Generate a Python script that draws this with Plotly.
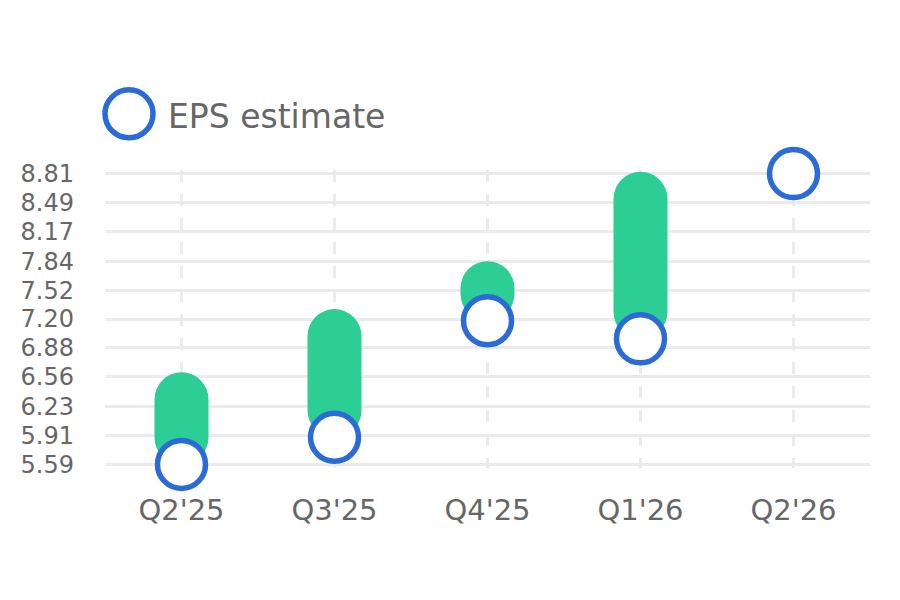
import plotly.graph_objects as go

categories = ["Q2'25", "Q3'25", "Q4'25", "Q1'26", "Q2'26"]
eps_estimate = [5.59, 5.89, 7.18, 6.98, 8.81]
range_low = [5.59, 5.89, 7.18, 6.98, None]
range_high = [6.61, 7.31, 7.84, 8.83, None]
y_ticks = [5.59, 5.91, 6.23, 6.56, 6.88, 7.20, 7.52, 7.84, 8.17, 8.49, 8.81]
y_tick_text = ["5.59", "5.91", "6.23", "6.56", "6.88", "7.20", "7.52", "7.84", "8.17", "8.49", "8.81"]
legend_label = "EPS estimate"

GREEN = "#2DCE96"
BLUE = "#2A6BD8"
GRID = "#EBEBEB"
TEXT = "#666666"

bar_len = [None if (h is None or l is None) else h - l for h, l in zip(range_high, range_low)]

fig = go.Figure()
fig.add_trace(go.Bar(
    x=categories, y=bar_len, base=range_low, width=0.353,
    marker=dict(color=GREEN, cornerradius=27, line=dict(width=0)),
    cliponaxis=False, showlegend=False, hoverinfo="skip",
))
fig.add_trace(go.Scatter(
    x=categories, y=eps_estimate, mode="markers", name=legend_label,
    marker=dict(size=48, color="white", line=dict(color=BLUE, width=5.5)),
    cliponaxis=False, showlegend=False,
))

# y range padded slightly so edge gridlines are drawn
ymin, ymax = 5.55, 8.85
ppu = 90.28
L, R = 105, 30
T = 173.3 - (ymax - 8.81) * ppu
B = 600 - (464 + (5.59 - ymin) * ppu)
pw = 900 - L - R
ph = 600 - T - B

# legend drawn manually (large symbol)
fig.add_shape(type="circle", xref="paper", yref="paper",
              xsizemode="pixel", ysizemode="pixel",
              xanchor=(129 - L) / pw, yanchor=(600 - B - 113.5) / ph,
              x0=-24, x1=24, y0=-24, y1=24,
              line=dict(color=BLUE, width=5.5), fillcolor="white")
fig.add_annotation(xref="paper", yref="paper", x=(166 - L) / pw, y=(600 - B - 116) / ph,
                   xanchor="left", yanchor="middle", showarrow=False,
                   text=legend_label, font=dict(family="DejaVu Sans", size=33, color=TEXT))

fig.update_layout(
    width=900, height=600,
    margin=dict(l=L, r=R, t=T, b=B),
    paper_bgcolor="white", plot_bgcolor="white",
)
fig.update_xaxes(
    type="category", range=[-0.5, 4.5],
    showgrid=True, gridcolor=GRID, gridwidth=3, griddash="12px,12px",
    showline=False, zeroline=False, ticks="",
    tickfont=dict(family="DejaVu Sans", size=29, color=TEXT),
    ticklabelstandoff=22,
)
fig.update_yaxes(
    range=[ymin, ymax], tickmode="array", tickvals=y_ticks, ticktext=y_tick_text,
    showgrid=True, gridcolor=GRID, gridwidth=3,
    showline=False, zeroline=False, ticks="",
    tickfont=dict(family="DejaVu Sans", size=24, color=TEXT),
    ticklabelstandoff=30,
)

fig.write_html("out.html")
